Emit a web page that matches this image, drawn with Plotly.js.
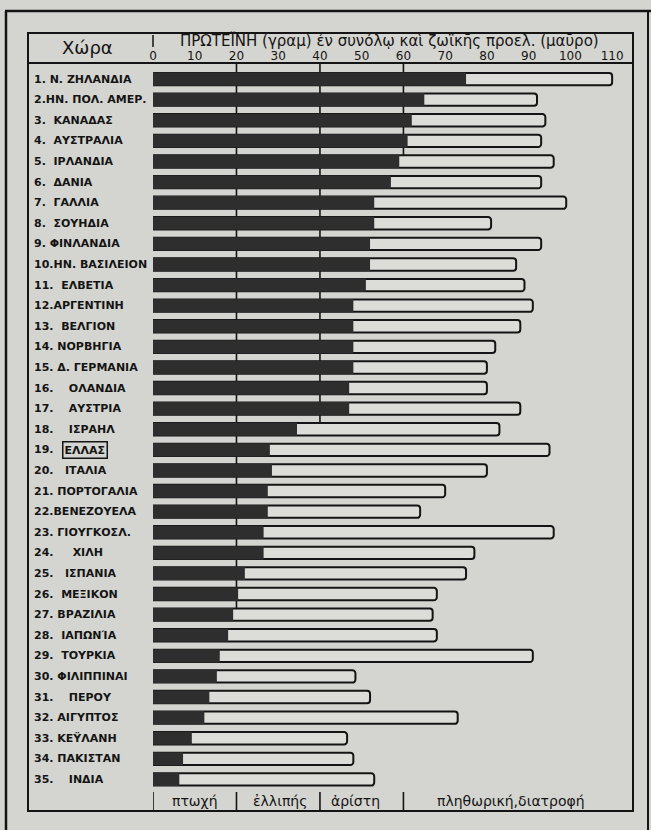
<!DOCTYPE html>
<html>
<head>
<meta charset="utf-8">
<script src="https://cdn.plot.ly/plotly-3.0.1.min.js"></script>
<style>
  html, body { margin: 0; padding: 0; background: #d4d4d0; }
  #chart { width: 651px; height: 830px; }
</style>
</head>
<body>
<div id="chart"></div>
<script>
// ---- data ----
const countries = ['Ν. ΖΗΛΑΝΔΙΑ','ΗΝ. ΠΟΛ. ΑΜΕΡ.','ΚΑΝΑΔΑΣ','ΑΥΣΤΡΑΛΙΑ','ΙΡΛΑΝΔΙΑ','ΔΑΝΙΑ','ΓΑΛΛΙΑ','ΣΟΥΗΔΙΑ','ΦΙΝΛΑΝΔΙΑ','ΗΝ. ΒΑΣΙΛΕΙΟΝ','ΕΛΒΕΤΙΑ','ΑΡΓΕΝΤΙΝΗ','ΒΕΛΓΙΟΝ','ΝΟΡΒΗΓΙΑ','Δ. ΓΕΡΜΑΝΙΑ','ΟΛΑΝΔΙΑ','ΑΥΣΤΡΙΑ','ΙΣΡΑΗΛ','ΕΛΛΑΣ','ΙΤΑΛΙΑ','ΠΟΡΤΟΓΑΛΙΑ','ΒΕΝΕΖΟΥΕΛΑ','ΓΙΟΥΓΚΟΣΛ.','ΧΙΛΗ','ΙΣΠΑΝΙΑ','ΜΕΞΙΚΟΝ','ΒΡΑΖΙΛΙΑ','ΙΑΠΩΝΙΑ','ΤΟΥΡΚΙΑ','ΦΙΛΙΠΠΙΝΑΙ','ΠΕΡΟΥ','ΑΙΓΥΠΤΟΣ','ΚΕΫΛΑΝΗ','ΠΑΚΙΣΤΑΝ','ΙΝΔΙΑ'];

// printed row labels (as in the original table)
const S = '\u00a0';
const rowLabels = [
  '1. Ν. ΖΗΛΑΝΔΙΑ', '2.ΗΝ. ΠΟΛ. ΑΜΕΡ.', '3.'+S+S+'ΚΑΝΑΔΑΣ', '4.'+S+S+'ΑΥΣΤΡΑΛΙΑ', '5.'+S+S+'ΙΡΛΑΝΔΙΑ',
  '6.'+S+S+'ΔΑΝΙΑ', '7.'+S+S+'ΓΑΛΛΙΑ', '8.'+S+S+'ΣΟΥΗΔΙΑ', '9.'+S+'ΦΙΝΛΑΝΔΙΑ', '10.ΗΝ. ΒΑΣΙΛΕΙΟΝ',
  '11.'+S+S+'ΕΛΒΕΤΙΑ', '12.ΑΡΓΕΝΤΙΝΗ', '13.'+S+S+'ΒΕΛΓΙΟΝ', '14. ΝΟΡΒΗΓΙΑ', '15. Δ. ΓΕΡΜΑΝΙΑ',
  '16.'+S+S+S+S+'ΟΛΑΝΔΙΑ', '17.'+S+S+S+S+'ΑΥΣΤΡΙΑ', '18.'+S+S+S+S+'ΙΣΡΑΗΛ', '19.', '20.'+S+S+S+'ΙΤΑΛΙΑ',
  '21. ΠΟΡΤΟΓΑΛΙΑ', '22.ΒΕΝΕΖΟΥΕΛΑ', '23. ΓΙΟΥΓΚΟΣΛ.', '24.'+S+S+S+S+S+'ΧΙΛΗ', '25.'+S+S+S+'ΙΣΠΑΝΙΑ',
  '26.'+S+S+'ΜΕΞΙΚΟΝ', '27.'+S+'ΒΡΑΖΙΛΙΑ', '28.'+S+S+'ΙΑΠΩΝΊΑ', '29.'+S+S+'ΤΟΥΡΚΙΑ', '30. ΦΙΛΙΠΠΙΝΑΙ',
  '31.'+S+S+S+S+'ΠΕΡΟΥ', '32. ΑΙΓΥΠΤΟΣ', '33. ΚΕΫΛΑΝΗ', '34. ΠΑΚΙΣΤΑΝ', '35.'+S+S+S+S+'ΙΝΔΙΑ'
];
const boxedName = 'ΕΛΛΑΣ';

// total protein (grams) and animal protein (grams, black)
const totalProtein = [110,92,94,93,96,93,99,81,93,87,89,91,88,82,80,80,88,83,95,80,70,64,96,77,75,68,67,68,91,48.5,52,73,46.5,48,53];
const animalProtein = [75,65,62,61,59,57,53,53,52,52,51,48,48,48,48,47,47,34.5,28,28.5,27.5,27.5,26.5,26.5,22,20.4,19.2,18,16,15.3,13.5,12.3,9.3,7.2,6.3];

const tickValues = [0,10,20,30,40,50,60,70,80,90,100,110];
const tickLabels = ['0','10','20','30','40','50','60','70','80','90','100','110'];
const levelLines = [20,40,60];
const levelBounds = [0,20,40,60];
const levelNames = ['πτωχή','ἐλλιπής','ἀρίστη','πληθωρική,διατροφή'];
const levelLabelAt = [10,30.5,48.5,85.8];

const titleText = 'ΠΡΩΤΕΪΝΗ (γραμ) ἐν συνόλῳ καὶ ζωϊκῆς προελ. (μαῦρο)';
const headText = 'Χώρα';

// ---- layout helpers ----
const W = 651, H = 830;
const mL = 153, mR = 18, mT = 63, mB = 38;
const pw = W - mL - mR, ph = H - mT - mB;
const px = v => (v - mL) / pw;          // pixel x -> paper
const py = v => (H - mB - v) / ph;      // pixel y -> paper
const ink = '#141414';

const traces = [
  {
    type: 'bar', orientation: 'h', y: countries, x: totalProtein,
    width: 0.6,
    marker: { color: '#dcdcd8', line: { color: ink, width: 2 }, cornerradius: 3 },
    hoverinfo: 'x+y', showlegend: false
  },
  {
    type: 'bar', orientation: 'h', y: countries, x: animalProtein,
    width: 0.64,
    marker: { color: '#2e2e2e', line: { width: 0 } },
    hoverinfo: 'x+y', showlegend: false
  }
];

const shapes = [];
// outer frame
shapes.push({ type: 'line', xref: 'paper', yref: 'paper', x0: px(6), x1: px(6), y0: py(11), y1: py(832), line: { color: ink, width: 2.5 } });
shapes.push({ type: 'line', xref: 'paper', yref: 'paper', x0: px(5), x1: px(652), y0: py(11), y1: py(11), line: { color: ink, width: 2.5 } });
shapes.push({ type: 'line', xref: 'paper', yref: 'paper', x0: px(648), x1: px(648), y0: py(11), y1: py(832), line: { color: ink, width: 2 } });
// inner box
shapes.push({ type: 'rect', xref: 'paper', yref: 'paper', x0: px(28), x1: px(633), y0: py(811), y1: py(33), line: { color: ink, width: 2 } });
// header divider
shapes.push({ type: 'line', xref: 'paper', yref: 'paper', x0: px(28), x1: px(633), y0: 1, y1: 1, line: { color: ink, width: 2 } });
// small bar before the title
shapes.push({ type: 'line', xref: 'paper', yref: 'paper', x0: 0, x1: 0, y0: py(47), y1: py(35), line: { color: ink, width: 1.5 } });
// level lines: drawn down through the rows whose animal protein reaches the level
levelLines.forEach(t => {
  let last = -1;
  animalProtein.forEach((v, i) => { if (v >= t) last = i; });
  shapes.push({ type: 'line', xref: 'x', yref: 'y', x0: t, x1: t, y0: -0.8, y1: last + 0.69, layer: 'below', line: { color: ink, width: 1.6 } });
});
// footer separators
levelBounds.forEach(t => {
  shapes.push({ type: 'line', xref: 'x', yref: 'paper', x0: t, x1: t, y0: py(811), y1: py(792), line: { color: ink, width: 1.6 } });
});

const annotations = [];
rowLabels.forEach((lab, i) => {
  annotations.push({
    xref: 'paper', yref: 'y', x: px(32), y: countries[i], xanchor: 'left', yanchor: 'middle',
    text: lab, showarrow: false,
    font: { family: 'DejaVu Sans', size: 11, color: ink, weight: 'bold' }
  });
});
annotations.push({
  xref: 'paper', yref: 'y', x: px(62), y: countries[18], xanchor: 'left', yanchor: 'middle',
  text: boxedName, showarrow: false, bordercolor: ink, borderwidth: 1.5, borderpad: 1,
  font: { family: 'DejaVu Sans', size: 11, color: ink, weight: 'bold' }
});
annotations.push({
  xref: 'paper', yref: 'paper', x: px(87), y: py(48), xanchor: 'center', yanchor: 'middle',
  text: headText, showarrow: false, font: { family: 'DejaVu Sans', size: 18, color: ink }
});
annotations.push({
  xref: 'paper', yref: 'paper', x: px(389), y: py(40), xanchor: 'center', yanchor: 'middle',
  text: titleText, showarrow: false, font: { family: 'DejaVu Sans', size: 15, color: ink }
});
levelNames.forEach((n, i) => {
  annotations.push({
    xref: 'x', yref: 'paper', x: levelLabelAt[i], y: py(801), xanchor: 'center', yanchor: 'middle',
    text: n, showarrow: false, font: { family: 'DejaVu Sans', size: 14, color: ink }
  });
});

const layout = {
  width: W, height: H,
  margin: { l: mL, r: mR, t: mT, b: mB, pad: 0 },
  paper_bgcolor: '#d4d4d0', plot_bgcolor: 'rgba(0,0,0,0)',
  barmode: 'overlay',
  showlegend: false,
  xaxis: {
    range: [0, 115], side: 'top', tickvals: tickValues, ticktext: tickLabels,
    ticks: '', showgrid: false, zeroline: false, showline: false,
    tickfont: { family: 'DejaVu Sans', size: 12, color: ink }, fixedrange: true
  },
  yaxis: {
    type: 'category', categoryorder: 'array', categoryarray: countries,
    range: [34.61, -0.78], showticklabels: false, ticks: '', showgrid: false,
    zeroline: false, showline: false, fixedrange: true
  },
  shapes: shapes,
  annotations: annotations
};

Plotly.newPlot('chart', traces, layout, { displayModeBar: false, staticPlot: true });
</script>
</body>
</html>
